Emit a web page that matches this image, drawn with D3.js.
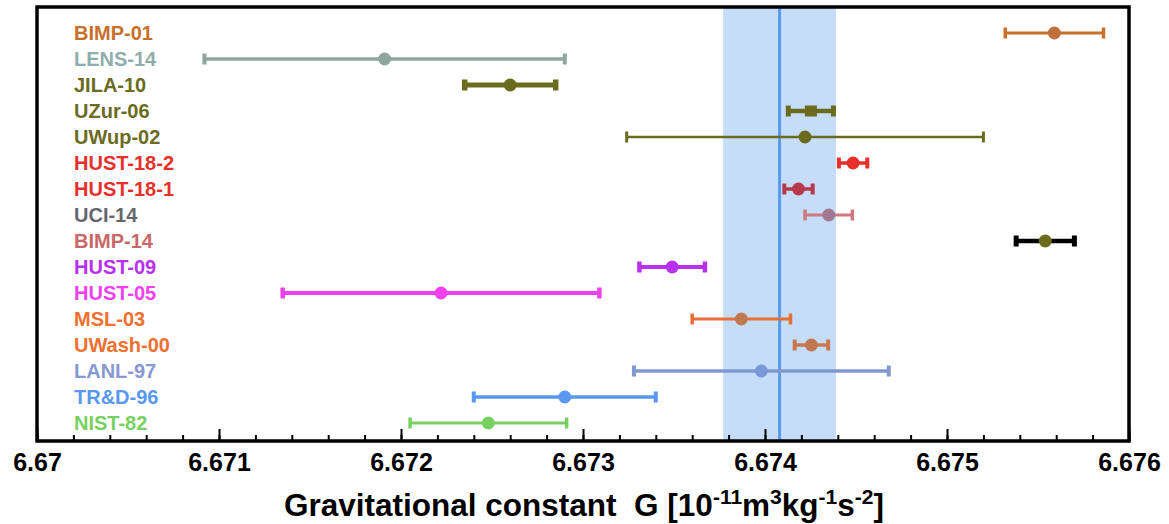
<!DOCTYPE html>
<html>
<head>
<meta charset="utf-8">
<script src="https://cdn.jsdelivr.net/npm/d3@7"></script>
<style>
  body { margin: 0; background: #fff; }
  text { font-family: "Liberation Sans", Arial, sans-serif; font-weight: bold; }
</style>
</head>
<body>
<div class="canvas"></div>
<script>
// experiments, top to bottom
const experiments = ['BIMP-01', 'LENS-14', 'JILA-10', 'UZur-06', 'UWup-02', 'HUST-18-2', 'HUST-18-1', 'UCI-14',
  'BIMP-14', 'HUST-09', 'HUST-05', 'MSL-03', 'UWash-00', 'LANL-97', 'TR&D-96', 'NIST-82'];

// G values (10^-11 m^3 kg^-1 s^-2) and their uncertainties
const gValues = [6.67559, 6.67191, 6.67260, 6.674252, 6.67422, 6.674484, 6.674184, 6.67435,
  6.67554, 6.67349, 6.67222, 6.67387, 6.674255, 6.67398, 6.6729, 6.67248];
const gErrors = [0.00027, 0.00099, 0.00025, 0.000124, 0.00098, 0.000078, 0.000078, 0.00013,
  0.00016, 0.00018, 0.00087, 0.00027, 0.000092, 0.00070, 0.0005, 0.00043];

// CODATA recommended value and its uncertainty band
const codataValue = 6.67408;
const codataError = 0.00031;

const majorTicks = [6.67, 6.671, 6.672, 6.673, 6.674, 6.675, 6.676];

// styles
const labelColors = ['#c8702a', '#8fadaa', '#6b6b1e', '#6b6b1e', '#6b6b1e', '#e8302a', '#e8302a', '#66666e',
  '#c86868', '#b830f0', '#f040f0', '#f07030', '#f07030', '#8898d0', '#5898f0', '#78d060'];
const barColors = ['#c8702a', '#8ea69e', '#6b6b1e', '#6b6b1e', '#6b6b1e', '#e8302a', '#b83a4a', '#d07880',
  '#000000', '#b830f0', '#f040f0', '#e87038', '#c87850', '#8098d0', '#5898f0', '#78d060'];
const dotColors = ['#c0703a', '#8ea69e', '#6b6b1e', '#6b6b1e', '#6b6b1e', '#e8302a', '#b83a4a', '#a07890',
  '#6b6b1e', '#b830f0', '#f040f0', '#c07850', '#c07850', '#7898d8', '#5898f0', '#78d060'];
const barWidths = [3, 3.5, 5, 4.5, 2.5, 3.5, 3.5, 3, 4.5, 4, 4, 3, 3.5, 3.5, 3.5, 3];

const width = 1169, height = 524;
const frame = {left: 37, right: 1129, top: 7, bottom: 441};

const svg = d3.select('.canvas').append('svg')
  .attr('width', width)
  .attr('height', height);

const x = d3.scaleLinear().domain([6.67, 6.676]).range([frame.left, frame.right]);
const y = d3.scalePoint().domain(experiments).range([33, 423]);

// CODATA band and line
svg.append('rect')
  .attr('x', x(codataValue - codataError))
  .attr('y', frame.top)
  .attr('width', x(codataValue + codataError) - x(codataValue - codataError))
  .attr('height', frame.bottom - frame.top)
  .attr('fill', '#c5ddf9');

svg.append('line')
  .attr('x1', x(codataValue)).attr('x2', x(codataValue))
  .attr('y1', frame.top).attr('y2', frame.bottom)
  .attr('stroke', '#5a9af0')
  .attr('stroke-width', 3);

// axis with ticks pointing inwards
const minorTicks = d3.range(0, 31).map(i => 6.67 + i * 0.0002);

svg.append('g')
  .attr('transform', `translate(0,${frame.bottom})`)
  .call(d3.axisBottom(x).tickValues(minorTicks).tickSize(-6).tickFormat(''))
  .call(g => g.select('.domain').remove())
  .selectAll('line').attr('stroke', '#000').attr('stroke-width', 2);

const xAxisGroup = svg.append('g')
  .attr('transform', `translate(0,${frame.bottom})`)
  .call(d3.axisBottom(x).tickValues(majorTicks).tickSize(-12).tickPadding(12).tickFormat(d3.format('')));

xAxisGroup.select('.domain').remove();
xAxisGroup.selectAll('line').attr('stroke', '#000').attr('stroke-width', 2);
xAxisGroup.selectAll('text')
  .attr('fill', '#000')
  .style('font-size', '25px');

// frame
svg.append('rect')
  .attr('x', frame.left).attr('y', frame.top)
  .attr('width', frame.right - frame.left)
  .attr('height', frame.bottom - frame.top)
  .attr('fill', 'none')
  .attr('stroke', '#000')
  .attr('stroke-width', 3.5);

// error bars
const rows = svg.append('g').selectAll('g')
  .data(experiments)
  .join('g')
  .attr('transform', d => `translate(0,${y(d)})`);

rows.append('line')
  .attr('x1', (d, i) => x(gValues[i] - gErrors[i]))
  .attr('x2', (d, i) => x(gValues[i] + gErrors[i]))
  .attr('stroke', (d, i) => barColors[i])
  .attr('stroke-width', (d, i) => barWidths[i]);

[-1, 1].forEach(side => {
  rows.append('line')
    .attr('x1', (d, i) => x(gValues[i] + side * gErrors[i]))
    .attr('x2', (d, i) => x(gValues[i] + side * gErrors[i]))
    .attr('y1', -5.5).attr('y2', 5.5)
    .attr('stroke', (d, i) => barColors[i])
    .attr('stroke-width', (d, i) => barWidths[i] + 0.5);
});

rows.filter(d => d !== 'UZur-06').append('circle')
  .attr('cx', d => x(gValues[experiments.indexOf(d)]))
  .attr('r', 6.5)
  .attr('fill', d => dotColors[experiments.indexOf(d)]);

rows.filter(d => d === 'UZur-06').append('rect')
  .attr('x', d => x(gValues[experiments.indexOf(d)]) - 6)
  .attr('y', -5.5)
  .attr('width', 12).attr('height', 11)
  .attr('fill', d => dotColors[experiments.indexOf(d)]);

// experiment labels
rows.append('text')
  .attr('x', 74)
  .attr('y', 7)
  .style('font-size', '20px')
  .attr('fill', (d, i) => labelColors[i])
  .text(d => d);

// axis title
const title = svg.append('text')
  .attr('x', 584)
  .attr('y', 516)
  .attr('text-anchor', 'middle')
  .style('font-size', '31.5px')
  .style('white-space', 'pre')
  .attr('fill', '#000');

title.append('tspan').text('Gravitational constant  G [10');
title.append('tspan').attr('dy', -12).style('font-size', '21px').text('-11');
title.append('tspan').attr('dy', 12).text('m');
title.append('tspan').attr('dy', -12).style('font-size', '21px').text('3');
title.append('tspan').attr('dy', 12).text('kg');
title.append('tspan').attr('dy', -12).style('font-size', '21px').text('-1');
title.append('tspan').attr('dy', 12).text('s');
title.append('tspan').attr('dy', -12).style('font-size', '21px').text('-2');
title.append('tspan').attr('dy', 12).text(']');
</script>
</body>
</html>
